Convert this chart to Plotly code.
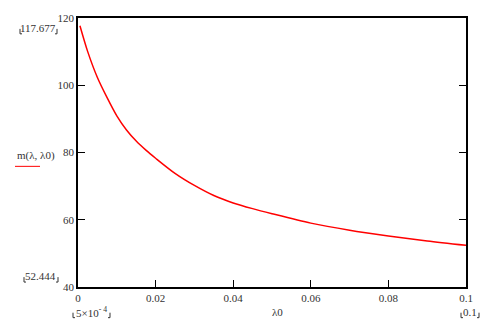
import plotly.graph_objects as go

lam0 = [0.0005, 0.0025, 0.005, 0.0075, 0.01, 0.0125, 0.015, 0.0175, 0.02, 0.025,
        0.03, 0.035, 0.04, 0.045, 0.05, 0.06, 0.07, 0.08, 0.09, 0.1]
m_vals = [117.7, 110.0, 102.3, 96.3, 90.9, 86.7, 83.4, 80.7, 78.3, 73.8,
          70.2, 67.2, 65.0, 63.3, 61.8, 59.0, 56.9, 55.2, 53.7, 52.4]

x_ticks = [0, 0.02, 0.04, 0.06, 0.08, 0.1]
x_tick_text = ["0", "0.02", "0.04", "0.06", "0.08", "0.1"]
y_ticks = [40, 60, 80, 100, 120]

FONT = "Liberation Serif"
TXT = "#333333"

fig = go.Figure()
fig.add_trace(go.Scatter(x=lam0, y=m_vals, mode="lines",
                         line=dict(color="#ff0000", width=1.5, shape="spline", smoothing=0.8),
                         showlegend=False, hoverinfo="skip"))

L, R, T, B = 78, 26, 15, 36
W, H = 492, 323
pw, ph = W - L - R, H - T - B

def px(x):
    return (x - L) / pw

def py(y):
    return (H - B - y) / ph

fig.update_layout(
    width=W, height=H,
    margin=dict(l=L, r=R, t=T, b=B),
    paper_bgcolor="white", plot_bgcolor="white",
    font=dict(family=FONT, size=11, color=TXT),
    xaxis=dict(range=[0, 0.1], tickvals=x_ticks, ticktext=x_tick_text,
               ticks="inside", ticklen=7, tickcolor="black", tickwidth=1,
               tickfont=dict(family=FONT, size=11, color=TXT),
               showline=True, linecolor="black", linewidth=1.5, mirror=True,
               showgrid=False, zeroline=False),
    yaxis=dict(range=[40, 120], tickvals=y_ticks,
               ticks="inside", ticklen=7, tickcolor="black", tickwidth=1,
               tickfont=dict(family=FONT, size=11, color=TXT),
               showline=True, linecolor="black", linewidth=1.5, mirror="ticks",
               showgrid=False, zeroline=False),
)

def ann(text, x, y, size=11):
    fig.add_annotation(text=text, x=px(x), y=py(y), xref="paper", yref="paper",
                       showarrow=False, xanchor="center", yanchor="middle",
                       font=dict(family=FONT, size=size, color=TXT))

ann("117.677", 38, 25)
ann("52.444", 40, 276)
ann("m(λ, λ0)", 36, 154)
ann("5×10<sup>- 4</sup>", 91, 312)
ann("λ0", 277, 312)
ann("0.1", 470, 312)

# red legend line under the function label
fig.add_shape(type="line", xref="paper", yref="paper",
              x0=px(15), x1=px(40), y0=py(165), y1=py(165),
              line=dict(color="#ff0000", width=1))

# small corner brackets around the limit values
def brackets(x0, x1, y):
    for xa, d in ((x0, 1), (x1, -1)):
        fig.add_shape(type="line", xref="paper", yref="paper",
                      x0=px(xa), x1=px(xa), y0=py(y - 2), y1=py(y + 3),
                      line=dict(color=TXT, width=1))
        fig.add_shape(type="line", xref="paper", yref="paper",
                      x0=px(xa), x1=px(xa + 2 * d), y0=py(y + 3), y1=py(y + 3),
                      line=dict(color=TXT, width=1))

brackets(20, 57, 28)
brackets(24, 58, 279)
brackets(73, 110, 315)
brackets(461, 479, 315)

fig.write_html("out.html")
